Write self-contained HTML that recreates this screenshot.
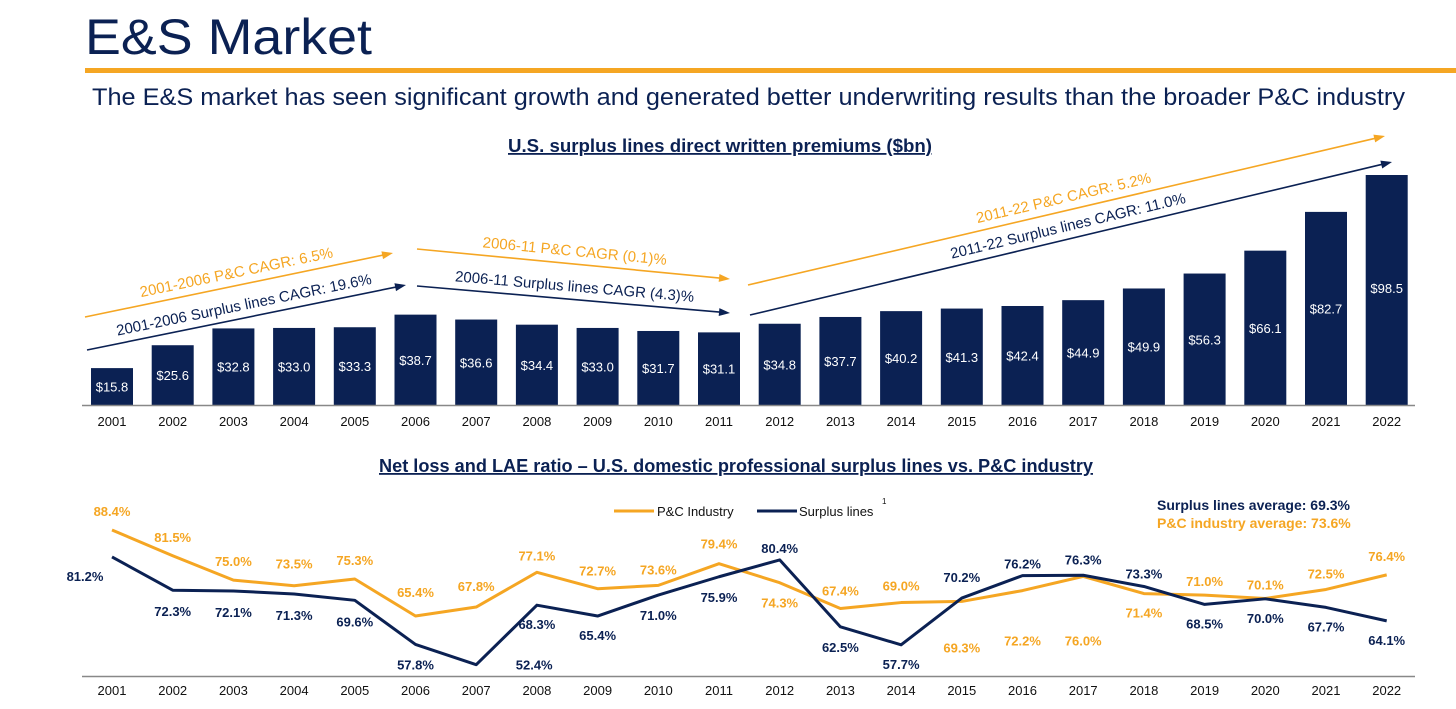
<!DOCTYPE html>
<html><head><meta charset="utf-8"><style>
body{margin:0;background:#fff;width:1456px;height:709px;overflow:hidden;font-family:"Liberation Sans",sans-serif}
svg{display:block}
</style></head><body>
<svg width="1456" height="709" viewBox="0 0 1456 709">
<text x="85" y="54" font-size="50" fill="#0b2153" textLength="287" lengthAdjust="spacingAndGlyphs">E&amp;S Market</text>
<rect x="85" y="68" width="1371" height="5" fill="#f5a623"/>
<text x="92" y="105" font-size="24" fill="#0b2153" textLength="1313" lengthAdjust="spacingAndGlyphs">The E&amp;S market has seen significant growth and generated better underwriting results than the broader P&amp;C industry</text>
<text x="508" y="152" font-size="18" font-weight="bold" fill="#0b2153" textLength="424" lengthAdjust="spacingAndGlyphs" text-decoration="underline">U.S. surplus lines direct written premiums ($bn)</text>
<text x="379" y="472" font-size="18" font-weight="bold" fill="#0b2153" textLength="714" lengthAdjust="spacingAndGlyphs" text-decoration="underline">Net loss and LAE ratio – U.S. domestic professional surplus lines vs. P&amp;C industry</text>
<g id="bars"></g>
<g id="arrows"></g>
<g id="lines"></g>
</svg>
<script>
const years=["2001","2002","2003","2004","2005","2006","2007","2008","2009","2010","2011","2012","2013","2014","2015","2016","2017","2018","2019","2020","2021","2022"];
const premiums=[15.8,25.6,32.8,33.0,33.3,38.7,36.6,34.4,33.0,31.7,31.1,34.8,37.7,40.2,41.3,42.4,44.9,49.9,56.3,66.1,82.7,98.5];
const pcRatio=[88.4,81.5,75.0,73.5,75.3,65.4,67.8,77.1,72.7,73.6,79.4,74.3,67.4,69.0,69.3,72.2,76.0,71.4,71.0,70.1,72.5,76.4];
const slRatio=[81.2,72.3,72.1,71.3,69.6,57.8,52.4,68.3,65.4,71.0,75.9,80.4,62.5,57.7,70.2,76.2,76.3,73.3,68.5,70.0,67.7,64.1];
const pcLabelDy=[-19,-19,-19,-22,-19,-24,-21,-17,-18,-16,-20,20,-18,-17,46,50,64,19,-14,-14,-16,-19];
const slLabelDy=[19,21,21,21,21,20,0,19,19,20,20,-12,20,19,-21,-12,-16,-13,19,19,19,19];
const slLabelDx=[-27,0,0,0,0,0,58,0,0,0,0,0,0,0,0,0,0,0,0,0,0,0];
const NS="http://www.w3.org/2000/svg";
const NAVY="#0b2153",ORANGE="#f5a623";
function mk(parent,tag,attrs){const e=document.createElementNS(NS,tag);for(const k in attrs)e.setAttribute(k,attrs[k]);parent.appendChild(e);return e;}
const xC=i=>112+i*60.7;
const yBar=v=>405-v*2.335;
const yLine=v=>530+(88.4-v)*3.74;
const gb=document.getElementById('bars');
premiums.forEach((v,i)=>{
 const r=mk(gb,'rect',{x:xC(i)-21,y:yBar(v),width:42,height:405-yBar(v),fill:NAVY});
 
 
 const t=mk(gb,'text',{x:xC(i),y:Math.min(yBar(v)+118,yBar(v)+(405-yBar(v))/2+5),'font-size':13,fill:'#fff','text-anchor':'middle'});
 t.textContent='$'+v.toFixed(1);
 
 
 const yl=mk(gb,'text',{x:xC(i),y:426,'font-size':13,fill:'#111','text-anchor':'middle'});
 yl.textContent=years[i];
 
 
});
const ax=mk(gb,'line',{x1:82,y1:405.5,x2:1415,y2:405.5,stroke:'#888','stroke-width':1.5});


const ga=document.getElementById('arrows');
const arrows=[
 [85,317,393,253,ORANGE,"2001-2006 P&C CAGR: 6.5%",-8],
 [87,350,406,285,NAVY,"2001-2006 Surplus lines CAGR: 19.6%",-8],
 [417,249,730,279,ORANGE,"2006-11 P&C CAGR (0.1)%",-8],
 [417,286,730,313,NAVY,"2006-11 Surplus lines CAGR (4.3)%",-8],
 [748,285,1385,136,ORANGE,"2011-22 P&C CAGR: 5.2%",-8],
 [750,315,1392,162,NAVY,"2011-22 Surplus lines CAGR: 11.0%",-8]];
arrows.forEach((a,k)=>{
 const [x1,y1,x2,y2,c,txt,off]=a;
 const ang=Math.atan2(y2-y1,x2-x1);
 const l=mk(ga,'line',{x1:x1,y1:y1,x2:x2-9*Math.cos(ang),y2:y2-9*Math.sin(ang),stroke:c,'stroke-width':1.6});
 
 
 const p1x=x2-11*Math.cos(ang)+4*Math.sin(ang),p1y=y2-11*Math.sin(ang)-4*Math.cos(ang);
 const p2x=x2-11*Math.cos(ang)-4*Math.sin(ang),p2y=y2-11*Math.sin(ang)+4*Math.cos(ang);
 mk(ga,'polygon',{points:`${x2},${y2} ${p1x},${p1y} ${p2x},${p2y}`,fill:c});
 const mx=(x1+x2)/2,my=(y1+y2)/2,d=ang*180/Math.PI;
 const t=mk(ga,'text',{x:mx,y:my+off,'font-size':15,fill:c,'text-anchor':'middle',transform:`rotate(${d} ${mx} ${my})`});
 t.textContent=txt;
 
 
});
const gl=document.getElementById('lines');
const lax=mk(gl,'line',{x1:82,y1:676.5,x2:1415,y2:676.5,stroke:'#888','stroke-width':1.5});


years.forEach((y,i)=>{
 const t=mk(gl,'text',{x:xC(i),y:695,'font-size':13,fill:'#111','text-anchor':'middle'});
 t.textContent=y;
 
 
});
function series(vals,color,name,dys,dxs){
 const pl=mk(gl,'polyline',{points:vals.map((v,i)=>xC(i)+','+yLine(v)).join(' '),fill:'none',stroke:color,'stroke-width':3,'stroke-linejoin':'round'});
 
 
 vals.forEach((v,i)=>{
  const t=mk(gl,'text',{x:xC(i)+(dxs?dxs[i]:0),y:yLine(v)+dys[i]+5,'font-size':13,'font-weight':'bold',fill:color,'text-anchor':'middle'});
  t.textContent=v.toFixed(1)+'%';
  
  
 });
}
series(pcRatio,ORANGE,'pc-industry',pcLabelDy,null);
series(slRatio,NAVY,'surplus-lines',slLabelDy,slLabelDx);
const lg=mk(gl,'g',{});


mk(lg,'line',{x1:614,y1:511,x2:654,y2:511,stroke:ORANGE,'stroke-width':3});
const l1=mk(lg,'text',{x:657,y:516,'font-size':13,fill:'#111'});l1.textContent='P&C Industry';


mk(lg,'line',{x1:757,y1:511,x2:797,y2:511,stroke:NAVY,'stroke-width':3});
const l2=mk(lg,'text',{x:799,y:516,'font-size':13,fill:'#111'});l2.textContent='Surplus lines';


const sup=mk(lg,'text',{x:882,y:504,'font-size':8,fill:'#111'});sup.textContent='1';
const a1=mk(gl,'text',{x:1157,y:510,'font-size':14,'font-weight':'bold',fill:NAVY});a1.textContent='Surplus lines average: 69.3%';


const a2=mk(gl,'text',{x:1157,y:528,'font-size':14,'font-weight':'bold',fill:ORANGE});a2.textContent='P&C industry average: 73.6%';


</script>
</body></html>
